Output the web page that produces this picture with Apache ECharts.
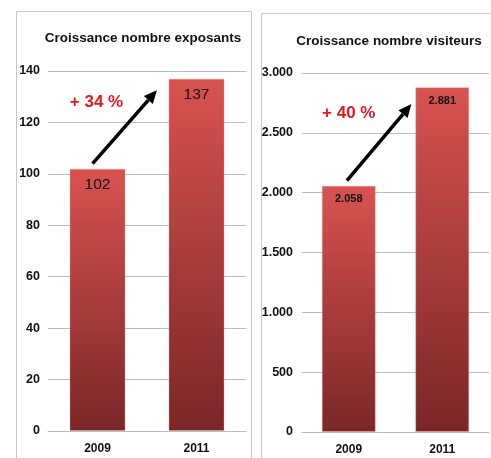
<!DOCTYPE html>
<html>
<head>
<meta charset="utf-8">
<script src="https://cdn.jsdelivr.net/npm/echarts@6/dist/echarts.min.js"></script>
<style>
  html, body { margin: 0; padding: 0; background: #fff; }
  #chart { width: 491px; height: 458px; }
</style>
</head>
<body>
<div id="chart"></div>
<script>
const years = ['2009', '2011']
const exposants = [102, 137]
const visiteurs = [2058, 2881]
const exposantsGrowth = '+ 34 %'
const visiteursGrowth = '+ 40 %'

const FONT = '"Liberation Sans", Arial, sans-serif'

// format 2881 -> 2.881
function fmtDot(v) {
  return String(v).replace(/\B(?=(\d{3})+(?!\d))/g, '.')
}

const barColor = new echarts.graphic.LinearGradient(0, 0, 0, 1, [
  { offset: 0, color: '#d8534f' },
  { offset: 1, color: '#7a2627' }
])

const chart = echarts.init(document.getElementById('chart'))

const axisLabelY = { color: '#111', fontFamily: FONT, fontWeight: 'bold', fontSize: 12.5 }

const option = {
  animation: false,
  title: [
    {
      text: 'Croissance nombre exposants',
      left: 143, top: 31, textAlign: 'center', padding: 0,
      textStyle: { fontFamily: FONT, fontWeight: 'bold', fontSize: 13.5, color: '#111' }
    },
    {
      text: 'Croissance nombre visiteurs',
      left: 389, top: 34, textAlign: 'center', padding: 0,
      textStyle: { fontFamily: FONT, fontWeight: 'bold', fontSize: 13.5, color: '#111' }
    }
  ],
  grid: [
    { left: 48, right: 245, top: 71, bottom: 27 },
    { left: 302, right: 2, top: 73, bottom: 26 }
  ],
  xAxis: [0, 1].map(i => ({
    type: 'category',
    gridIndex: i,
    data: years,
    axisLine: { show: true, lineStyle: { color: '#bdbdbd', width: 1 } },
    axisTick: { show: false },
    axisLabel: { color: '#111', fontFamily: FONT, fontWeight: 'bold', fontSize: 12, margin: 12 }
  })),
  yAxis: [
    {
      type: 'value', gridIndex: 0, min: 0, max: 140, interval: 20,
      axisLine: { show: false }, axisTick: { show: false },
      axisLabel: { ...axisLabelY, margin: 8 },
      splitLine: { lineStyle: { color: '#bdbdbd', width: 1 } }
    },
    {
      type: 'value', gridIndex: 1, min: 0, max: 3000, interval: 500,
      axisLine: { show: false }, axisTick: { show: false },
      axisLabel: { ...axisLabelY, margin: 9, formatter: v => fmtDot(v) },
      splitLine: { lineStyle: { color: '#bdbdbd', width: 1 } }
    }
  ],
  series: [
    {
      type: 'bar', xAxisIndex: 0, yAxisIndex: 0,
      data: exposants,
      barWidth: 56,
      itemStyle: { color: barColor, borderColor: 'rgba(255,150,150,0.35)', borderWidth: 1 },
      label: {
        show: true, position: 'insideTop', distance: 8,
        color: '#111', fontFamily: FONT, fontSize: 15.5
      }
    },
    {
      type: 'bar', xAxisIndex: 1, yAxisIndex: 1,
      data: visiteurs,
      barWidth: 54,
      itemStyle: { color: barColor, borderColor: 'rgba(255,150,150,0.35)', borderWidth: 1 },
      label: {
        show: true, position: 'insideTop', distance: 8,
        color: '#111', fontFamily: FONT, fontWeight: 'bold', fontSize: 11,
        formatter: p => fmtDot(p.value)
      }
    }
  ]
}

chart.setOption(option)

// pixel of (fractional category index, value) in a grid
function px(gridIndex, idx, val) {
  const a = chart.convertToPixel({ gridIndex }, [0, val])
  const b = chart.convertToPixel({ gridIndex }, [1, val])
  return [a[0] + (b[0] - a[0]) * idx, a[1]]
}

function arrow(p0, p1) {
  const ang = Math.atan2(p1[1] - p0[1], p1[0] - p0[0])
  const L = 13, W = 6
  const base = [p1[0] - L * Math.cos(ang), p1[1] - L * Math.sin(ang)]
  const nx = -Math.sin(ang), ny = Math.cos(ang)
  return [
    {
      type: 'line',
      shape: { x1: p0[0], y1: p0[1], x2: base[0], y2: base[1] },
      style: { stroke: '#000', lineWidth: 3.5 }
    },
    {
      type: 'polygon',
      shape: { points: [p1, [base[0] + nx * W, base[1] + ny * W], [base[0] - nx * W, base[1] - ny * W]] },
      style: { fill: '#000' }
    }
  ]
}

function growthText(p, text) {
  return {
    type: 'text', x: p[0], y: p[1],
    style: {
      text, fill: '#e8191c', font: 'bold 17px ' + FONT,
      align: 'center', verticalAlign: 'middle'
    }
  }
}

const graphics = [
  // panel frames
  { type: 'rect', shape: { x: 16.5, y: 11.5, width: 235, height: 460 }, style: { fill: 'none', stroke: '#c8c8c8', lineWidth: 1 }, z: -1 },
  { type: 'rect', shape: { x: 261.5, y: 13.5, width: 240, height: 460 }, style: { fill: 'none', stroke: '#c8c8c8', lineWidth: 1 }, z: -1 },
  ...arrow(px(0, -0.05, 104), px(0, 0.6, 132.5)),
  ...arrow(px(1, -0.02, 2100), px(1, 0.67, 2740)),
  growthText(px(0, -0.01, 128), exposantsGrowth),
  growthText(px(1, 0, 2665), visiteursGrowth)
]

chart.setOption({ graphic: graphics })

window.addEventListener('resize', () => chart.resize())
</script>
</body>
</html>
